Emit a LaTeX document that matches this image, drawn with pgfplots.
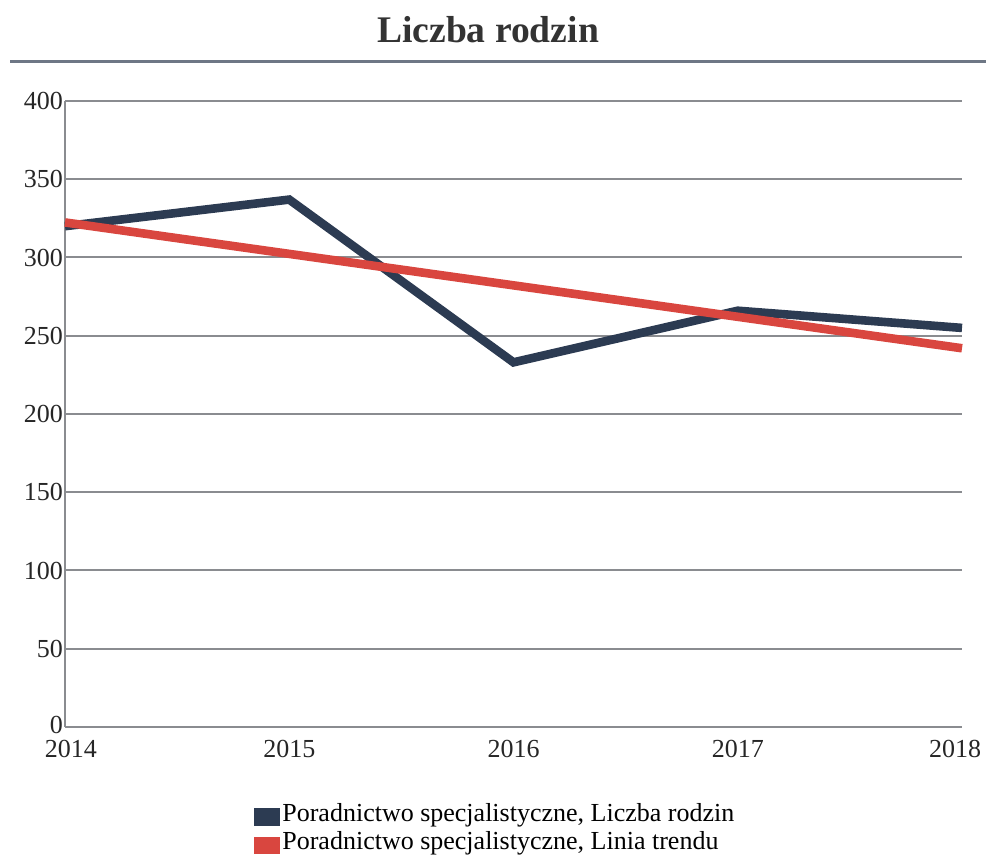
\documentclass[border=0pt]{standalone}
\usepackage{fontspec}
\setmainfont{Liberation Serif}
\usepackage{pgfplots}
\pgfplotsset{compat=1.18}
\definecolor{darkser}{HTML}{2C3B52}
\definecolor{redser}{HTML}{D9463F}
\definecolor{gridc}{HTML}{8A8C90}
\definecolor{rulec}{HTML}{6E7785}
\begin{document}
\begin{tikzpicture}
\path[use as bounding box] (0pt,0pt) rectangle (493pt,430pt);
\node[font=\bfseries\fontsize{18.8}{22}\selectfont, text=black!80] at (244pt,415pt) {Liczba rodzin};
\draw[rulec, line width=1.5pt] (5pt,399pt) -- (493pt,399pt);
\begin{axis}[
  at={(32.5pt,66.5pt)}, anchor=south west,
  scale only axis, width=448.5pt, height=313pt,
  xmin=2014, xmax=2018, ymin=0, ymax=400,
  xtick={2014,2015,2016,2017,2018},
  xticklabels={\kern6pt 2014,2015,2016,2017,\kern-7pt 2018},
  ytick={0,50,...,400},
  yticklabels={\raisebox{2pt}{0},50,100,150,200,250,300,350,400},
  axis x line*=bottom, axis y line*=left,
  axis line style={gridc, line width=1pt, -},
  ymajorgrids, grid style={gridc, line width=1pt},
  major tick length=0pt,
  tick label style={font=\fontsize{13}{15}\selectfont, text=black!85},
  /pgf/number format/assume math mode=true,
  /pgf/number format/1000 sep={},
  yticklabel style={xshift=2.5pt},
  xticklabel style={yshift=-3pt},
  clip=false,
  legend style={at={(0.21,-0.118)}, anchor=north west, draw=none, fill=none,
     font=\fontsize{13}{14.5}\selectfont, row sep=1.5pt, cells={anchor=west},
     inner sep=0pt, nodes={inner sep=1pt}},
  legend cell align=left,
  legend image code/.code={\fill[#1] (0pt,-4pt) rectangle (9pt,0.5pt);},
]
\addplot[darkser, line width=4.3pt, line join=miter] coordinates {
 (2014,320) (2015,337) (2016,233) (2017,266) (2018,255)};
\addlegendentry{Poradnictwo specjalistyczne, Liczba rodzin}
\addplot[redser, line width=4.3pt] coordinates {
 (2014,322.4) (2015,302.3) (2016,282.2) (2017,262.1) (2018,242.0)};
\addlegendentry{Poradnictwo specjalistyczne, Linia trendu}
\end{axis}
\end{tikzpicture}
\end{document}
